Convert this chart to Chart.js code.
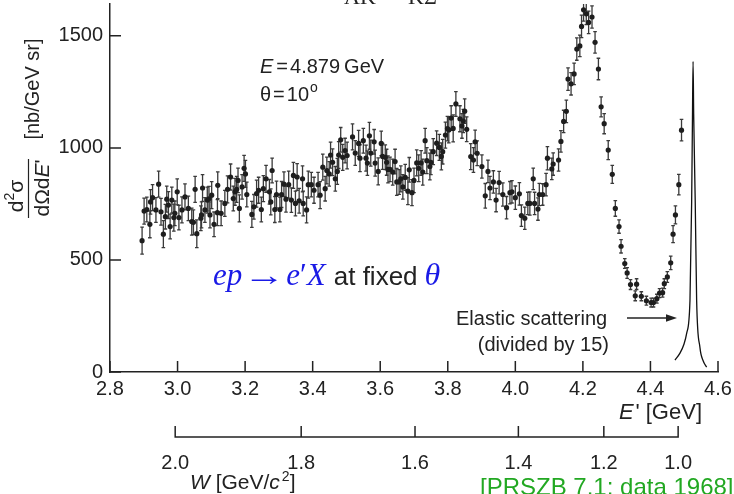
<!DOCTYPE html>
<html>
<head>
<meta charset="utf-8">
<script src="https://cdn.jsdelivr.net/npm/chart.js@4.4.1/dist/chart.umd.min.js"></script>
<style>
  html, body { margin: 0; padding: 0; background: #fff; }
  canvas { display: block; }
</style>
</head>
<body>
<canvas id="chart" width="734" height="494"></canvas>
<script>
// scattered electron energy E' [GeV]
var ePrime = [
	2.895,2.901,2.909,2.918,2.920,2.926,2.936,2.944,2.951,2.958,
	2.964,2.968,2.973,2.978,2.983,2.989,2.992,2.999,3.004,3.013,
	3.022,3.032,3.042,3.047,3.052,3.057,3.069,3.071,3.074,3.081,
	3.088,3.093,3.096,3.101,3.108,3.118,3.119,3.129,3.140,3.148,
	3.157,3.165,3.170,3.175,3.179,3.183,3.191,3.197,3.201,3.205,
	3.220,3.226,3.234,3.240,3.248,3.254,3.262,3.272,3.276,3.280,
	3.288,3.293,3.303,3.308,3.315,3.321,3.329,3.337,3.343,3.349,
	3.354,3.360,3.370,3.372,3.382,3.387,3.396,3.404,3.416,3.422,
	3.430,3.437,3.442,3.449,3.453,3.459,3.467,3.473,3.477,3.483,
	3.489,3.496,3.502,3.518,3.526,3.536,3.540,3.550,3.558,3.562,
	3.568,3.572,3.582,3.585,3.594,3.603,3.607,3.615,3.619,3.623,
	3.629,3.637,3.644,3.649,3.656,3.661,3.667,3.674,3.682,3.686,
	3.694,3.700,3.708,3.714,3.721,3.726,3.733,3.738,3.747,3.750,
	3.757,3.767,3.775,3.781,3.785,3.793,3.799,3.803,3.810,3.816,
	3.824,3.836,3.842,3.846,3.850,3.856,3.868,3.876,3.881,3.887,
	3.901,3.911,3.919,3.925,3.935,3.943,3.952,3.963,3.974,3.984,
	3.990,4.000,4.012,4.018,4.028,4.037,4.043,4.053,4.057,4.067,
	4.071,4.081,4.091,4.095,4.108,4.112,4.128,4.135,4.143,4.151,
	4.156,4.165,4.174,4.182,4.191,4.196,4.202,4.210,4.217,4.227,
	4.236,4.246,4.254,4.263,4.275,4.287,4.296,4.307,4.313,4.324,
	4.331,4.341,4.355,4.359,4.373,4.388,4.402,4.409,4.419,4.427,
	4.436,4.441,4.450,4.460,4.467,4.474,4.484,4.492
];

// d2sigma / dOmega dE' [nb/GeV sr]
var xsec = [
	586,718,725,659,759,778,723,838,715,615,
	693,771,745,649,767,689,708,804,689,723,
	781,730,671,668,815,617,686,701,821,723,
	767,773,701,789,659,711,833,708,752,815,
	870,774,804,815,855,730,826,909,884,792,
	703,737,796,811,725,818,862,804,759,899,
	725,792,725,792,838,771,836,767,877,752,
	870,764,862,752,723,836,836,811,836,789,
	914,818,899,884,968,936,862,895,968,1036,
	958,988,966,1049,977,1020,954,1032,954,932,
	1054,977,1027,932,895,1020,962,958,936,904,
	904,892,939,848,848,862,826,868,807,902,
	800,855,933,909,933,892,1032,943,917,936,
	983,1021,1002,962,983,1057,1086,1080,1133,1087,
	1196,1130,1098,1120,1164,1083,961,946,1027,976,
	917,786,895,821,848,767,845,792,733,800,
	804,778,795,698,686,752,752,862,752,727,
	792,792,836,954,906,928,946,1029,1118,1163,
	1307,1286,1330,1441,1455,1542,1616,1598,1560,1584,
	1471,1352,1183,1108,990,882,730,649,561,484,
	442,390,340,392,338,318,310,310,327,352,
	354,394,424,487,615,701,836,1079
];

// error bar half lengths
var xsecErr = [
	60,58,55,60,55,58,55,58,60,60,
	55,58,60,55,58,60,55,58,55,58,
	58,55,60,55,58,62,55,58,60,55,
	58,55,58,60,55,58,60,55,58,60,
	58,55,60,58,55,60,55,58,60,55,
	58,55,60,58,55,58,60,55,58,55,
	58,60,55,58,55,58,60,55,58,55,
	60,55,58,55,58,60,55,58,55,60,
	58,55,60,55,58,60,55,58,60,55,
	58,55,60,58,55,58,60,55,58,55,
	60,58,55,58,60,55,58,55,58,60,
	55,58,55,60,55,58,55,58,60,55,
	58,55,58,60,55,58,55,58,60,55,
	58,55,58,60,55,58,55,58,55,60,
	55,58,55,52,55,55,58,55,52,55,
	52,55,50,52,50,52,50,52,50,50,
	50,52,50,48,50,50,52,48,50,50,
	50,48,50,52,48,50,50,48,50,50,
	50,50,48,50,48,50,50,48,50,50,
	48,48,45,45,42,40,35,30,30,22,
	24,22,22,24,20,20,20,20,20,20,
	20,22,24,30,38,40,46,48
];

// elastic peak (divided by 15)
var elasticE = [4.4726, 4.4874, 4.4992, 4.5072, 4.5170, 4.5220, 4.5245, 4.5262, 4.5280, 4.5326, 4.5368, 4.5465, 4.5560, 4.5664];
var elasticV = [53, 84, 124, 172, 318, 759, 1150, 1386, 1150, 759, 318, 110, 50, 22];

var xTicks = [2.8, 3.0, 3.2, 3.4, 3.6, 3.8, 4.0, 4.2, 4.4, 4.6];
var yTicks = [0, 500, 1000, 1500];
// second scale: invariant mass W, placed at the E' where it sits on the figure
var wLabels = ["2.0", "1.8", "1.6", "1.4", "1.2", "1.0"];
var wAtE = [2.993, 3.366, 3.703, 4.009, 4.262, 4.482];

var SANS = '"Liberation Sans", Arial, Helvetica, sans-serif';
var SERIF = '"Liberation Serif", "Times New Roman", serif';
var INK = "#222";
var BLUE = "#1a1ae6";
var GREEN = "#22a822";

// draw text pieces one after the other; a number is an extra gap
// piece = [text, font, colour, dy, stretchX]
function run(ctx, x, y, parts) {
	parts.forEach(function (p) {
		if (typeof p === "number") { x += p; return; }
		var sx = p[4] || 1;
		ctx.font = p[1];
		ctx.fillStyle = p[2] || INK;
		ctx.save();
		ctx.translate(x, y + (p[3] || 0));
		ctx.scale(sx, 1);
		ctx.fillText(p[0], 0, 0);
		ctx.restore();
		x += ctx.measureText(p[0]).width * sx;
	});
	return x;
}
function runWidth(ctx, parts) {
	var w = 0;
	parts.forEach(function (p) {
		if (typeof p === "number") { w += p; return; }
		ctx.font = p[1];
		w += ctx.measureText(p[0]).width * (p[4] || 1);
	});
	return w;
}

var errorBars = {
	id: "errorBars",
	beforeDatasetsDraw: function (chart) {
		var ctx = chart.ctx, xs = chart.scales.x, ys = chart.scales.y, a = chart.chartArea;
		ctx.save();
		ctx.beginPath();
		ctx.rect(a.left, a.top, a.right - a.left, a.bottom - a.top);
		ctx.clip();
		ctx.strokeStyle = "#3a3a3a";
		ctx.lineWidth = 1.3;
		for (var i = 0; i < ePrime.length; i++) {
			var px = xs.getPixelForValue(ePrime[i]);
			var y1 = ys.getPixelForValue(xsec[i] - xsecErr[i]);
			var y2 = ys.getPixelForValue(xsec[i] + xsecErr[i]);
			ctx.beginPath();
			ctx.moveTo(px, y1); ctx.lineTo(px, y2);
			ctx.moveTo(px - 1.8, y1); ctx.lineTo(px + 1.8, y1);
			ctx.moveTo(px - 1.8, y2); ctx.lineTo(px + 1.8, y2);
			ctx.stroke();
		}
		ctx.restore();
	}
};

var innerTicks = {
	id: "innerTicks",
	afterDraw: function (chart) {
		var ctx = chart.ctx, xs = chart.scales.x, ys = chart.scales.y, a = chart.chartArea;
		ctx.save();
		ctx.strokeStyle = INK;
		ctx.lineWidth = 1.5;
		ctx.beginPath();
		xTicks.forEach(function (v) {
			var px = xs.getPixelForValue(v);
			ctx.moveTo(px, a.bottom); ctx.lineTo(px, a.bottom - 11);
		});
		yTicks.forEach(function (v) {
			var py = ys.getPixelForValue(v);
			ctx.moveTo(a.left, py); ctx.lineTo(a.left + 11, py);
		});
		ctx.stroke();
		ctx.restore();
	}
};

var labels = {
	id: "labels",
	afterDraw: function (chart) {
		var ctx = chart.ctx, xs = chart.scales.x;
		var f20 = "20px " + SANS, i20 = "italic 20px " + SANS;
		var f22 = "22px " + SANS, i22 = "italic 22px " + SANS;
		ctx.save();
		ctx.textBaseline = "alphabetic";
		ctx.textAlign = "left";

		// cut-off labels at the very top
		run(ctx, 344, 4, [["ΛK", "22px " + SERIF]]);
		run(ctx, 408, 4, [["KΣ", "22px " + SERIF]]);

		// beam energy and angle
		run(ctx, 260, 73, [["E", i20], 3, ["=", f20], 2, ["4.879", f20], 4, ["GeV", f20]]);
		run(ctx, 260, 101, [["θ", f20], 2, ["=", f20], 2, ["10", f20], 1, ["o", "14px " + SANS, INK, -9]]);

		// reaction
		run(ctx, 213, 285, [
			["ep", "italic 31px " + SERIF, BLUE], 1,
			["→", "30px " + SERIF, BLUE, 0, 1.4], 1,
			["e", "italic 31px " + SERIF, BLUE], ["′", "31px " + SERIF, BLUE], ["X", "italic 31px " + SERIF, BLUE], 8,
			["at fixed", "26px " + SANS, INK], 7,
			["θ", "italic 32px " + SERIF, BLUE]
		]);

		// elastic peak note + arrow
		run(ctx, 456, 325, [["Elastic scattering", f20]]);
		ctx.font = f20;
		ctx.textAlign = "right";
		ctx.fillStyle = INK;
		ctx.fillText("(divided by 15)", 609, 351);
		ctx.textAlign = "left";
		ctx.strokeStyle = INK;
		ctx.lineWidth = 1.3;
		ctx.beginPath(); ctx.moveTo(627, 318); ctx.lineTo(668, 318); ctx.stroke();
		ctx.beginPath(); ctx.moveTo(677, 318); ctx.lineTo(666, 314.3); ctx.lineTo(666, 321.7); ctx.closePath(); ctx.fill();

		// E' axis title
		var tParts = [["E", i22], 2, ["'", f22], 6, ["[GeV]", f22]];
		run(ctx, 702 - runWidth(ctx, tParts), 419, tParts);

		// W axis
		var wy = 437;
		var wl = xs.getPixelForValue(wAtE[0]), wr = xs.getPixelForValue(wAtE[wAtE.length - 1]);
		ctx.lineWidth = 1.5;
		ctx.beginPath();
		ctx.moveTo(wl, wy); ctx.lineTo(wr, wy);
		wAtE.forEach(function (e) {
			var px = xs.getPixelForValue(e);
			ctx.moveTo(px, wy + 0.75); ctx.lineTo(px, wy - 11);
		});
		ctx.stroke();
		ctx.font = "20px " + SANS;
		ctx.textAlign = "center";
		wAtE.forEach(function (e, i) {
			ctx.fillText(wLabels[i], xs.getPixelForValue(e), 469);
		});
		ctx.textAlign = "left";
		run(ctx, 190, 489, [["W", "italic 21px " + SANS], [" [GeV/", "21px " + SANS], ["c", "italic 21px " + SANS], 2, ["2", "14px " + SANS, INK, -8], ["]", "21px " + SANS]]);

		// source
		run(ctx, 480, 495, [["[PRSZB 7.1; data 1968]", "24px " + SANS, GREEN]]);

		// rotated y title
		ctx.rotate(-Math.PI / 2);
		ctx.fillStyle = INK;
		ctx.font = f20;
		ctx.textAlign = "center";
		ctx.fillText("[nb/GeV sr]", -89, 39);
		ctx.textAlign = "left";
		var num = [["d", "21px " + SANS], ["2", "14px " + SANS, INK, -9], ["σ", "21px " + SANS]];
		run(ctx, -196 - runWidth(ctx, num) / 2, 23, num);
		var den = [["dΩd", "21px " + SANS], ["E", "italic 21px " + SANS], ["'", "21px " + SANS]];
		run(ctx, -188 - runWidth(ctx, den) / 2, 49, den);
		ctx.lineWidth = 1.2;
		ctx.beginPath(); ctx.moveTo(-218, 28.5); ctx.lineTo(-159, 28.5); ctx.stroke();
		ctx.restore();
	}
};

var points = ePrime.map(function (e, i) { return { x: e, y: xsec[i] }; });
var elastic = elasticE.map(function (e, i) { return { x: e, y: elasticV[i] }; });

Chart.defaults.font.family = SANS;
Chart.defaults.color = INK;

new Chart(document.getElementById("chart"), {
	type: "scatter",
	data: {
		datasets: [
			{
				label: "data",
				data: points,
				showLine: false,
				pointRadius: 2.6,
				pointBorderWidth: 0,
				pointBackgroundColor: "#1e1e1e",
				pointBorderColor: "#1e1e1e"
			},
			{
				type: "line",
				label: "elastic",
				data: elastic,
				borderColor: "#111",
				borderWidth: 1.3,
				pointRadius: 0,
				fill: false,
				cubicInterpolationMode: "monotone"
			}
		]
	},
	options: {
		responsive: false,
		animation: false,
		devicePixelRatio: 1,
		layout: { padding: { top: 0, right: 16, bottom: 0, left: 0 } },
		plugins: { legend: { display: false }, tooltip: { enabled: false } },
		scales: {
			x: {
				type: "linear",
				min: 2.8,
				max: 4.6,
				afterBuildTicks: function (s) { s.ticks = xTicks.map(function (v) { return { value: v }; }); },
				afterFit: function (s) { s.height = 122; s.paddingLeft = 0; s.paddingRight = 0; },
				ticks: {
					font: { size: 20 },
					color: INK,
					padding: 5,
					maxRotation: 0,
					autoSkip: false,
					callback: function (v) { return v.toFixed(1); }
				},
				grid: { display: false, drawTicks: false },
				border: { display: true, color: INK, width: 1.5 }
			},
			y: {
				min: 0,
				max: 1642,
				afterBuildTicks: function (s) { s.ticks = yTicks.map(function (v) { return { value: v }; }); },
				afterFit: function (s) { s.width = 110; s.paddingTop = 0; s.paddingBottom = 0; },
				ticks: {
					font: { size: 20 },
					color: INK,
					padding: 7,
					callback: function (v) { return String(v); }
				},
				grid: { display: false, drawTicks: false },
				border: { display: true, color: INK, width: 1.5 }
			}
		}
	},
	plugins: [errorBars, innerTicks, labels]
});
</script>
</body>
</html>
